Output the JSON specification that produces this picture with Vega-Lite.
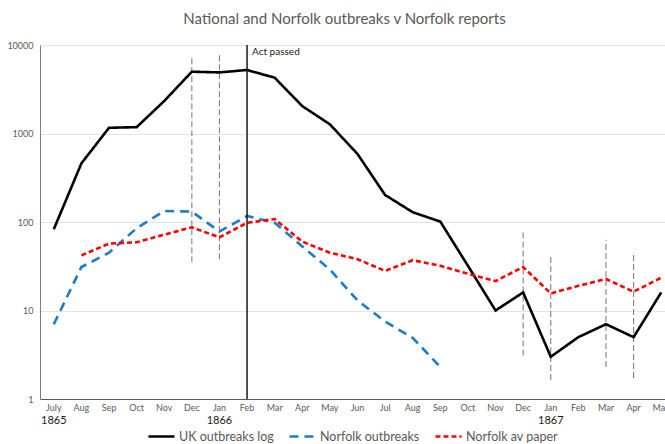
{
  "$schema": "https://vega.github.io/schema/vega-lite/v6.json",
  "autosize": {"type": "none"},
  "padding": {"left": 40, "top": 45, "right": 0, "bottom": 45},
  "width": 625,
  "height": 354,
  "background": "white",
  "config": {
    "font": "Lato",
    "view": {"stroke": null},
    "axis": {"labelFont": "Lato", "labelColor": "#595959", "ticks": false, "title": null}
  },
  "title": {
    "text": "National and Norfolk outbreaks v Norfolk reports",
    "font": "Lato",
    "fontSize": 15,
    "fontWeight": "normal",
    "color": "#595959",
    "anchor": "middle",
    "dx": -8,
    "offset": 14
  },
  "datasets": {
    "series": [
      {"period": "1865-07", "series": "UK outbreaks log", "value": 83},
      {"period": "1865-08", "series": "UK outbreaks log", "value": 460},
      {"period": "1865-09", "series": "UK outbreaks log", "value": 1160},
      {"period": "1865-10", "series": "UK outbreaks log", "value": 1180},
      {"period": "1865-11", "series": "UK outbreaks log", "value": 2330},
      {"period": "1865-12", "series": "UK outbreaks log", "value": 4990},
      {"period": "1866-01", "series": "UK outbreaks log", "value": 4900},
      {"period": "1866-02", "series": "UK outbreaks log", "value": 5220},
      {"period": "1866-03", "series": "UK outbreaks log", "value": 4270},
      {"period": "1866-04", "series": "UK outbreaks log", "value": 2040},
      {"period": "1866-05", "series": "UK outbreaks log", "value": 1270},
      {"period": "1866-06", "series": "UK outbreaks log", "value": 587},
      {"period": "1866-07", "series": "UK outbreaks log", "value": 202},
      {"period": "1866-08", "series": "UK outbreaks log", "value": 129},
      {"period": "1866-09", "series": "UK outbreaks log", "value": 101},
      {"period": "1866-10", "series": "UK outbreaks log", "value": 32},
      {"period": "1866-11", "series": "UK outbreaks log", "value": 10},
      {"period": "1866-12", "series": "UK outbreaks log", "value": 16},
      {"period": "1867-01", "series": "UK outbreaks log", "value": 3},
      {"period": "1867-02", "series": "UK outbreaks log", "value": 5},
      {"period": "1867-03", "series": "UK outbreaks log", "value": 7},
      {"period": "1867-04", "series": "UK outbreaks log", "value": 5},
      {"period": "1867-05", "series": "UK outbreaks log", "value": 16},
      {"period": "1865-07", "series": "Norfolk outbreaks", "value": 7},
      {"period": "1865-08", "series": "Norfolk outbreaks", "value": 31},
      {"period": "1865-09", "series": "Norfolk outbreaks", "value": 45},
      {"period": "1865-10", "series": "Norfolk outbreaks", "value": 85},
      {"period": "1865-11", "series": "Norfolk outbreaks", "value": 133},
      {"period": "1865-12", "series": "Norfolk outbreaks", "value": 131},
      {"period": "1866-01", "series": "Norfolk outbreaks", "value": 78},
      {"period": "1866-02", "series": "Norfolk outbreaks", "value": 117},
      {"period": "1866-03", "series": "Norfolk outbreaks", "value": 98},
      {"period": "1866-04", "series": "Norfolk outbreaks", "value": 53},
      {"period": "1866-05", "series": "Norfolk outbreaks", "value": 29},
      {"period": "1866-06", "series": "Norfolk outbreaks", "value": 13},
      {"period": "1866-07", "series": "Norfolk outbreaks", "value": 7.5},
      {"period": "1866-08", "series": "Norfolk outbreaks", "value": 4.9},
      {"period": "1866-09", "series": "Norfolk outbreaks", "value": 2.3},
      {"period": "1865-08", "series": "Norfolk av paper", "value": 42},
      {"period": "1865-09", "series": "Norfolk av paper", "value": 57},
      {"period": "1865-10", "series": "Norfolk av paper", "value": 59},
      {"period": "1865-11", "series": "Norfolk av paper", "value": 72},
      {"period": "1865-12", "series": "Norfolk av paper", "value": 87},
      {"period": "1866-01", "series": "Norfolk av paper", "value": 67},
      {"period": "1866-02", "series": "Norfolk av paper", "value": 98},
      {"period": "1866-03", "series": "Norfolk av paper", "value": 108},
      {"period": "1866-04", "series": "Norfolk av paper", "value": 60},
      {"period": "1866-05", "series": "Norfolk av paper", "value": 45},
      {"period": "1866-06", "series": "Norfolk av paper", "value": 38},
      {"period": "1866-07", "series": "Norfolk av paper", "value": 28},
      {"period": "1866-08", "series": "Norfolk av paper", "value": 37},
      {"period": "1866-09", "series": "Norfolk av paper", "value": 32},
      {"period": "1866-10", "series": "Norfolk av paper", "value": 26},
      {"period": "1866-11", "series": "Norfolk av paper", "value": 21.5},
      {"period": "1866-12", "series": "Norfolk av paper", "value": 31},
      {"period": "1867-01", "series": "Norfolk av paper", "value": 15.6},
      {"period": "1867-02", "series": "Norfolk av paper", "value": 19},
      {"period": "1867-03", "series": "Norfolk av paper", "value": 22.7},
      {"period": "1867-04", "series": "Norfolk av paper", "value": 16.3},
      {"period": "1867-05", "series": "Norfolk av paper", "value": 23.5}
    ],
    "ranges": [
      {"period": "1865-12", "lo": 35, "hi": 7100},
      {"period": "1866-01", "lo": 38, "hi": 7700},
      {"period": "1866-12", "lo": 3.1, "hi": 81},
      {"period": "1867-01", "lo": 1.64, "hi": 42},
      {"period": "1867-03", "lo": 2.3, "hi": 63},
      {"period": "1867-04", "lo": 1.73, "hi": 46}
    ],
    "act": [
      {"period": "1866-02", "lo": 1, "hi": 10000, "label": "Act passed"}
    ],
    "years": [
      {"period": "1865-07", "year": "1865", "base": 1},
      {"period": "1866-01", "year": "1866", "base": 1},
      {"period": "1867-01", "year": "1867", "base": 1}
    ]
  },
  "encoding": {
    "x": {
      "field": "period",
      "type": "ordinal",
      "scale": {"type": "band", "range": [0, 635], "paddingInner": 0, "paddingOuter": 0},
      "axis": {
        "labelAngle": 0,
        "labelFontSize": 9,
        "labelPadding": 4,
        "domainColor": "#595959",
        "domainWidth": 1,
        "grid": false,
        "labelExpr": "datum.value == '1865-07' ? 'July' : ['Jan','Feb','Mar','Apr','May','Jun','Jul','Aug','Sep','Oct','Nov','Dec'][toNumber(slice(datum.value, 5)) - 1]"
      }
    }
  },
  "layer": [
    {
      "data": {"name": "ranges"},
      "mark": {"type": "rule", "color": "#808080", "strokeWidth": 1.1, "strokeDash": [6, 3]},
      "encoding": {
        "y": {"field": "lo", "type": "quantitative", "scale": {"type": "log", "domain": [1, 10000]},
          "axis": {"values": [1, 10, 100, 1000, 10000], "format": "d", "labelFontSize": 9, "labelPadding": 7, "domainColor": "#7f7f7f", "grid": true, "gridColor": "#e3e3e3", "gridWidth": 1}},
        "y2": {"field": "hi"}
      }
    },
    {
      "data": {"name": "series"},
      "mark": {"type": "line", "strokeWidth": 2.6, "strokeJoin": "miter", "strokeCap": "butt"},
      "encoding": {
        "y": {"field": "value", "type": "quantitative"},
        "color": {
          "field": "series",
          "type": "nominal",
          "scale": {"domain": ["UK outbreaks log", "Norfolk outbreaks", "Norfolk av paper"], "range": ["#000000", "#1f7bc9", "#ff0000"]},
          "legend": {
            "title": null,
            "orient": "none",
            "legendX": 107,
            "legendY": 377,
            "direction": "horizontal",
            "padding": 0,
            "labelFont": "Lato",
            "labelFontSize": 12.5,
            "labelColor": "#595959",
            "symbolType": "stroke",
            "symbolSize": 680,
            "symbolStrokeWidth": 2.6,
            "columnPadding": 10,
            "labelOffset": 3
          }
        },
        "strokeDash": {
          "field": "series",
          "type": "nominal",
          "scale": {"domain": ["UK outbreaks log", "Norfolk outbreaks", "Norfolk av paper"], "range": [[1, 0], [9, 6], [5, 3]]},
          "legend": null
        }
      }
    },
    {
      "data": {"name": "act"},
      "mark": {"type": "rule", "color": "#1a1a1a", "strokeWidth": 1.5},
      "encoding": {
        "y": {"field": "lo", "type": "quantitative"},
        "y2": {"field": "hi"}
      }
    },
    {
      "data": {"name": "act"},
      "mark": {"type": "text", "align": "left", "baseline": "middle", "dx": 5, "dy": 7, "fontSize": 10, "font": "Lato", "color": "#1a1a1a"},
      "encoding": {
        "y": {"field": "hi", "type": "quantitative"},
        "text": {"field": "label"}
      }
    },
    {
      "data": {"name": "years"},
      "mark": {"type": "text", "align": "center", "baseline": "middle", "dy": 22, "fontSize": 11, "font": "Lato", "color": "#1a1a1a"},
      "encoding": {
        "y": {"field": "base", "type": "quantitative"},
        "text": {"field": "year"}
      }
    }
  ]
}
